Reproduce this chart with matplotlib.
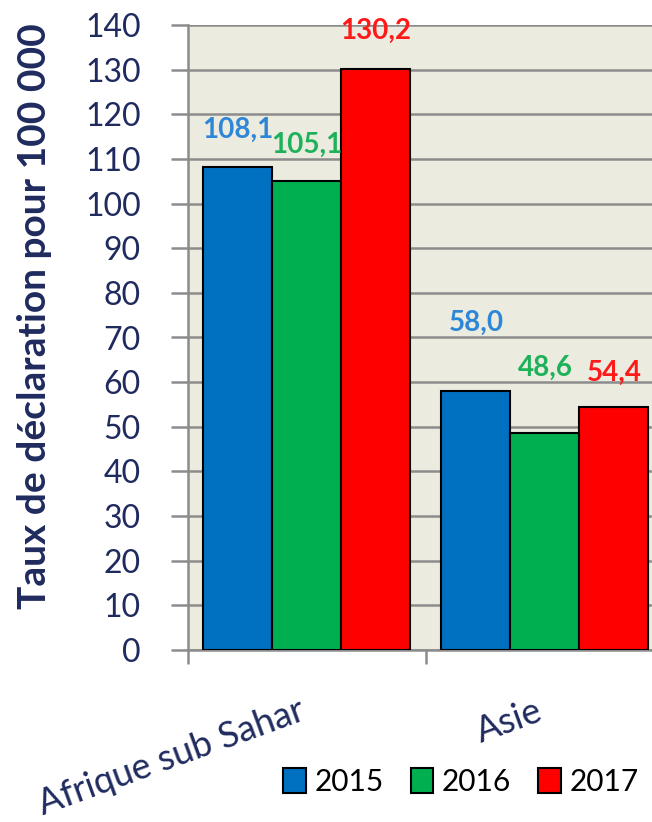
import numpy as np
import matplotlib.pyplot as plt
from matplotlib.patches import Patch

# Données
regions = ["Afrique sub Sahar", "Asie"]
annees = ["2015", "2016", "2017"]
taux_2015 = [108.1, 58.0]
taux_2016 = [105.1, 48.6]
taux_2017 = [130.2, 54.4]

couleurs = ["#0070C0", "#00B050", "#FF0000"]
couleurs_etiq = ["#2E86D6", "#1DB25A", "#FF1A1A"]
marine = "#1F2A5E"
# décalage vertical des étiquettes (points), comme sur l'original
decal = [[27, 49], [26, 47], [27, 25]]

plt.rcParams['font.family'] = ['Lato', 'DejaVu Sans']

fig = plt.figure(figsize=(6.52, 8.22), dpi=100)
ax = fig.add_axes([188 / 652, 1 - 650 / 822, 464 / 652, 625 / 822])
ax.set_facecolor("#EBEBE0")

x = np.arange(len(regions))
largeur = 0.29
series = [taux_2015, taux_2016, taux_2017]
for i, valeurs in enumerate(series):
    pos = x + (i - 1) * largeur
    ax.bar(pos, valeurs, largeur, color=couleurs[i], edgecolor="black",
           linewidth=1.5, zorder=3)
    for j, v in enumerate(valeurs):
        ax.annotate(f"{v:.1f}".replace(".", ","), (pos[j], v),
                    xytext=(0, decal[i][j]), textcoords="offset points",
                    ha="center", va="center", fontsize=20, fontweight="bold",
                    color=couleurs_etiq[i], zorder=4)

ax.set_ylim(0, 140)
ax.set_yticks(range(0, 141, 10))
ax.set_xlim(-0.5, 1.45)
ax.yaxis.grid(True, color="#8C8C8C", linewidth=1.8, zorder=1)

ax.tick_params(axis="y", labelsize=23, labelcolor=marine, length=12,
               width=1.8, color="#8C8C8C", pad=22)
ax.set_xticks(x)
ax.set_xticklabels(regions, rotation=20, ha="right", va="baseline",
                   rotation_mode="anchor", fontsize=26, color=marine)
ax.tick_params(axis="x", length=0, pad=50)
ax.set_xticks([-0.5, 0.5], minor=True)
ax.tick_params(axis="x", which="minor", length=10, width=1.8, color="#8C8C8C")

for cote in ["top", "right"]:
    ax.spines[cote].set_visible(False)
for cote in ["left", "bottom"]:
    ax.spines[cote].set_color("#8C8C8C")
    ax.spines[cote].set_linewidth(1.8)

fig.text(35 / 652, 1 - 316 / 822, "Taux de déclaration pour 100 000",
         rotation=90, ha="center", va="center", fontsize=28,
         fontweight="bold", color=marine)

poignees = [Patch(facecolor=c, edgecolor="black", linewidth=1.5) for c in couleurs]
fig.legend(poignees, annees, loc="center", bbox_to_anchor=(461 / 652, 1 - 782 / 822),
           ncol=3, frameon=False, fontsize=21.5, handlelength=0.75, handleheight=0.9,
           handletextpad=0.3, columnspacing=0.9)

fig.savefig("out.png", dpi=100)
